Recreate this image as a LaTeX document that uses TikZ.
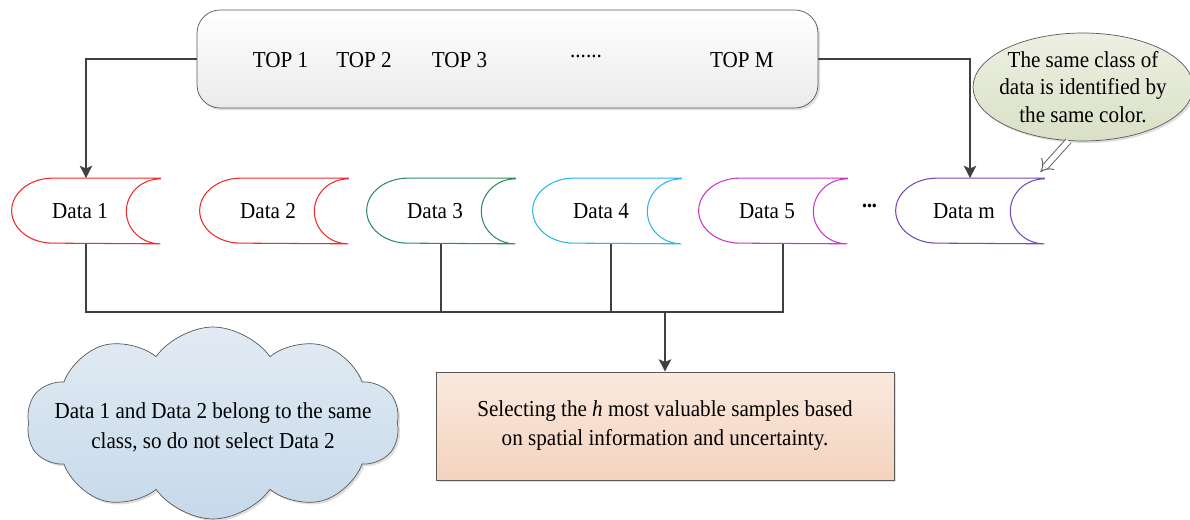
\documentclass[tikz,border=0pt]{standalone}
\usepackage{fontspec}
\setmainfont{Liberation Serif}[FakeStretch=0.925]
\usepackage{xcolor}
\usepackage{tikz}
\usetikzlibrary{arrows.meta,positioning,shapes.geometric,shapes.symbols,shadows}

\definecolor{dataRed}{HTML}{EE2A2A}
\definecolor{dataGreen}{HTML}{2F8C5E}
\definecolor{dataCyan}{HTML}{2BB5EE}
\definecolor{dataMagenta}{HTML}{C935C9}
\definecolor{dataPurple}{HTML}{7A46B8}

% outline of a stored-data node
\newcommand{\storeoutline}[2]{%
  \draw[storeline, draw=#2] (#1.north east) -- ([xshift=0.82cm]#1.north west)
    arc[start angle=90, end angle=270, x radius=0.82cm, y radius=0.65cm]
    -- (#1.south east)
    arc[start angle=270, end angle=90, x radius=0.68cm, y radius=0.65cm] -- cycle;}

\begin{document}
\begin{tikzpicture}[
    x=0.02cm, y=-0.02cm,
    every node/.style={font=\fontsize{13}{15.5}\selectfont},
    softshadow/.style={drop shadow={shadow xshift=1.2pt, shadow yshift=-1.2pt, opacity=0.25}},
    topbox/.style={rectangle, rounded corners=0.46cm, draw=gray!70!black, thin,
                   top color=white, bottom color=gray!16,
                   minimum width=12.42cm, minimum height=1.96cm, softshadow},
    store/.style={rectangle, minimum width=2.96cm, minimum height=1.3cm, inner sep=0pt,
                  execute at end node=\hspace{0.24cm}},
    storeline/.style={line width=0.6pt},
    selbox/.style={rectangle, draw=gray!70!black, thin,
                   top color={rgb,255:red,250;green,233;blue,222}, bottom color={rgb,255:red,244;green,211;blue,190},
                   minimum width=9.16cm, minimum height=2.16cm, align=center,
                   font=\fontsize{13}{16.5}\selectfont, softshadow},
    cloudnote/.style={cloud, cloud puffs=10, cloud puff arc=110, aspect=2, shape border rotate=18,
                      minimum width=7.46cm, minimum height=3.84cm, draw=gray!70!black, thin,
                      top color={rgb,255:red,226;green,235;blue,244}, bottom color={rgb,255:red,198;green,217;blue,234},
                      softshadow},
    callout/.style={ellipse, draw=gray!70!black, thin, inner xsep=-0.15cm, inner ysep=0pt,
                    minimum width=4.4cm, minimum height=2.16cm, align=center,
                    top color={rgb,255:red,237;green,240;blue,226}, bottom color={rgb,255:red,217;green,224;blue,198},
                    softshadow},
    link/.style={draw=black!75, line width=1.1pt},
    arr/.style={link, -{Stealth[length=7pt, width=7pt, inset=1.5pt]}},
    hint/.style={draw=gray!75!black, line width=0.55pt, double=white, double distance=3pt, -{Implies}},
]
\useasboundingbox (0,0) rectangle (1190,520);

% ranked list
\node[topbox] (tops) at (507.5,59) {};
\node (top1) at (280.5,60) {TOP 1};
\node (top2) at (364,60) {TOP 2};
\node (top3) at (459.5,60) {TOP 3};
\node (topdots) at (586,60) {\raisebox{4pt}{......}};
\node (topm) at (742,60) {TOP M};

% data nodes
\node[store] (d1) at (86,211) {Data 1};
\node[store] (d2) at (274,211) {Data 2};
\node[store] (d3) at (441,211) {Data 3};
\node[store] (d4) at (607,211) {Data 4};
\node[store] (d5) at (773,211) {Data 5};
\node (ddots) at (870,209) {\raisebox{-1pt}{\textbf{\kern-0.5pt·\kern-1.2pt·\kern-1.2pt·}}};
\node[store] (dm) at (970,211) {Data m};
\foreach \n/\c in {d1/dataRed, d2/dataRed, d3/dataGreen, d4/dataCyan, d5/dataMagenta, dm/dataPurple}
    \storeoutline{\n}{\c};

% notes and result
\node[callout] (legend) at (1083,87) {The same class of\\data is identified by\\the same color.};
\node[cloudnote, label={[align=center, font=\fontsize{13}{17}\selectfont, yshift=-0.08cm]center:{Data 1 and Data 2 belong to the same\\class, so do not select Data 2}}] (skip) at (213,423) {};
\node[selbox] (select) at (665,426) {Selecting the \textit{h} most valuable samples based\\on spatial information and uncertainty.};

\coordinate (bus) at (665,312);

\draw[arr] (tops.west) -| (d1.north);
\draw[arr] (tops.east) -| (dm.north);
\draw[link] (d1.south) |- (bus) -| ([xshift=0.2cm]d5.south);
\draw[link] (d3.south) -- (d3.south |- bus);
\draw[link] ([xshift=0.08cm]d4.south) -- ([xshift=0.08cm]d4.south |- bus);
\draw[arr] (bus) -- (select.north);
\draw[hint] (legend.-105) -- ([xshift=-0.08cm, yshift=0.12cm]dm.north east);
\end{tikzpicture}
\end{document}
